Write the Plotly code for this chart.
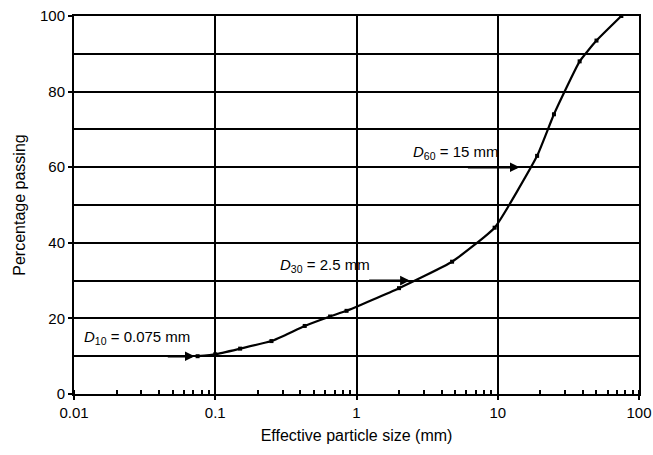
import math
import plotly.graph_objects as go

# Particle size distribution (sieve analysis)
particle_size_mm = [0.075, 0.1, 0.15, 0.25, 0.43, 0.65, 0.85, 2.0, 4.75, 9.5, 19, 25, 38, 50, 75]
percent_passing = [10, 10.5, 12, 14, 18, 20.5, 22, 28, 35, 44, 63, 74, 88, 93.5, 100]

# Characteristic sizes
d_labels = ["<i>D</i><sub>10</sub> = 0.075 mm", "<i>D</i><sub>30</sub> = 2.5 mm", "<i>D</i><sub>60</sub> = 15 mm"]
d_sizes = [0.075, 2.5, 15]
d_percents = [10, 30, 60]
arrow_start = [0.045, 1.2, 6.0]
label_pos_x = [0.028, 0.6, 5.0]
label_pos_y = [15, 34, 64]

x_tick_vals = [0.01, 0.1, 1, 10, 100]
x_tick_text = ["0.01", "0.1", "1", "10", "100"]

FONT = "Liberation Sans, Arial, sans-serif"

fig = go.Figure()
fig.add_trace(go.Scatter(
    x=particle_size_mm, y=percent_passing,
    mode="lines+markers",
    line=dict(color="black", width=2.2, shape="spline", smoothing=0.4),
    marker=dict(symbol="square", size=4, color="black"),
    showlegend=False,
))

for lab, xs, ys, x0, lx, ly in zip(d_labels, d_sizes, d_percents, arrow_start, label_pos_x, label_pos_y):
    fig.add_annotation(
        x=math.log10(xs), y=ys, ax=math.log10(x0), ay=ys,
        xref="x", yref="y", axref="x", ayref="y",
        showarrow=True, arrowhead=2, arrowsize=0.8, arrowwidth=2.4,
        arrowcolor="black", standoff=3, text="",
    )
    fig.add_annotation(
        x=math.log10(lx), y=ly, xref="x", yref="y",
        text=lab, showarrow=False,
        font=dict(family=FONT, size=15, color="black"),
    )

fig.update_xaxes(
    type="log", range=[-2, 2], automargin=False,
    tickvals=x_tick_vals, ticktext=x_tick_text,
    ticks="outside", ticklen=4, tickwidth=1.5, tickcolor="black",
    showgrid=True, gridcolor="black", gridwidth=1.8,
    showline=True, linecolor="black", linewidth=2, mirror=True,
    zeroline=False,
    minor=dict(ticks="inside", ticklen=4, tickwidth=1.5, tickcolor="black",
               dtick="D1", showgrid=False),
    tickfont=dict(family=FONT, size=15, color="black"),
    title=dict(text="Effective particle size (mm)", standoff=10,
               font=dict(family=FONT, size=16, color="black")),
)
fig.update_yaxes(
    range=[0, 100], dtick=20, automargin=False,
    ticks="outside", ticklen=4, tickwidth=1.5, tickcolor="black",
    showgrid=True, gridcolor="black", gridwidth=1.8,
    showline=True, linecolor="black", linewidth=2, mirror=True,
    zeroline=False,
    minor=dict(dtick=10, showgrid=True, gridcolor="black", gridwidth=1.6, ticks=""),
    tickfont=dict(family=FONT, size=15, color="black"),
    title=dict(text="Percentage passing", standoff=10,
               font=dict(family=FONT, size=16, color="black")),
)

fig.update_layout(
    width=653, height=455,
    margin=dict(l=74, r=14, t=16, b=61),
    paper_bgcolor="white", plot_bgcolor="white",
)

fig.write_html("out.html")
